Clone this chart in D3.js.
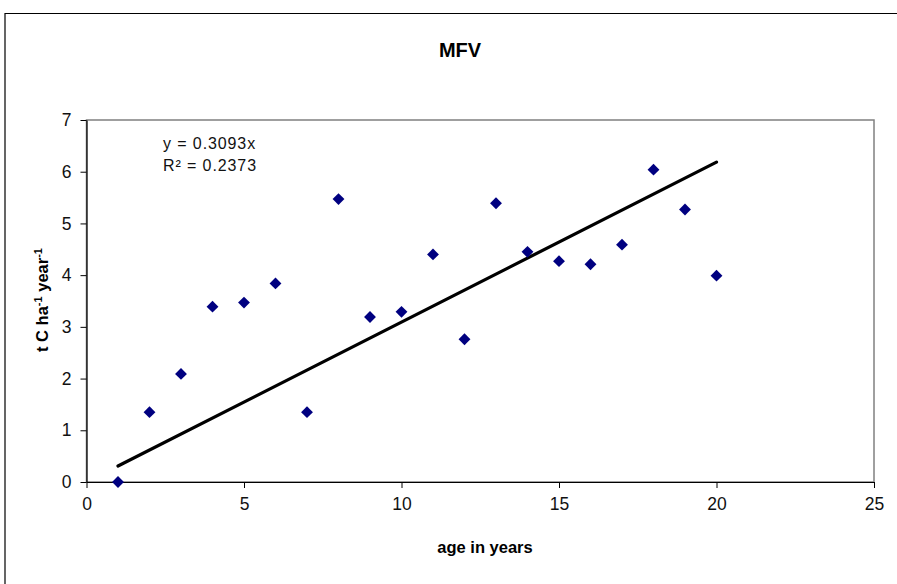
<!DOCTYPE html>
<html>
<head>
<meta charset="utf-8">
<script src="https://cdn.jsdelivr.net/npm/d3@7"></script>
<style>
  body { margin: 0; background: #fff; }
  svg { display: block; font-family: "Liberation Sans", Arial, sans-serif; }
</style>
</head>
<body>
<div id="chart"></div>
<script>
// MFV: annual carbon increment by stand age
const ages = [1, 2, 3, 4, 5, 6, 7, 8, 9, 10, 11, 12, 13, 14, 15, 16, 17, 18, 19, 20];
const carbon = [0.0, 1.35, 2.09, 3.39, 3.47, 3.84, 1.35, 5.47, 3.19, 3.29,
                4.40, 2.76, 5.39, 4.45, 4.27, 4.21, 4.59, 6.04, 5.27, 3.99];
const slope = 0.3093;
const xTicks = [0, 5, 10, 15, 20, 25];
const yTicks = [0, 1, 2, 3, 4, 5, 6, 7];

const width = 897, height = 584;
const plotLeft = 86.5, plotRight = 874, plotTop = 120, plotBottom = 482;

const svg = d3.select("#chart").append("svg")
    .attr("width", width).attr("height", height);

// outer chart border
svg.append("path")
    .attr("d", `M5,${height} V13.5 H${width}`)
    .attr("fill", "none").attr("stroke", "#000").attr("stroke-width", 1.2);

const x = d3.scaleLinear().domain([0, 25]).range([plotLeft, plotRight]);
const y = d3.scaleLinear().domain([0, 7]).range([plotBottom, plotTop]);

// plot area border (gray)
svg.append("rect")
    .attr("x", plotLeft).attr("y", plotTop)
    .attr("width", plotRight - plotLeft).attr("height", plotBottom - plotTop)
    .attr("fill", "none").attr("stroke", "#808080").attr("stroke-width", 1.5);

let xAxis = d3.axisBottom(x).tickValues(xTicks).tickFormat(d3.format("d"))
    .tickSize(6).tickSizeOuter(0).tickPadding(10);
let yAxis = d3.axisLeft(y).tickValues(yTicks).tickFormat(d3.format("d"))
    .tickSize(6).tickSizeOuter(0).tickPadding(9);

const xg = svg.append("g").attr("transform", `translate(0,${plotBottom})`).call(xAxis);
const yg = svg.append("g").attr("transform", `translate(${plotLeft},0)`).call(yAxis);
[xg, yg].forEach(g => {
  g.select(".domain").attr("stroke", "#000").attr("stroke-width", 1.2);
  g.selectAll("line").attr("stroke", "#000");
  g.selectAll("text").attr("font-size", 17.5).attr("fill", "#111")
      .attr("font-family", "Liberation Sans, Arial, sans-serif");
});

// trendline
svg.append("line")
    .attr("x1", x(ages[0])).attr("y1", y(slope * ages[0]))
    .attr("x2", x(ages[ages.length - 1])).attr("y2", y(slope * ages[ages.length - 1]))
    .attr("stroke", "#000").attr("stroke-width", 3.2).attr("stroke-linecap", "round");

// diamond markers
const diamond = d3.symbol().type(d3.symbolSquare).size(70);
svg.append("g").selectAll("path")
    .data(ages.map((a, i) => ({ age: a, c: carbon[i] })))
    .enter().append("path")
    .attr("d", diamond)
    .attr("transform", d => `translate(${x(d.age)},${y(d.c)}) rotate(45)`)
    .attr("fill", "#000080");

// title
svg.append("text").text("MFV")
    .attr("x", 460).attr("y", 57)
    .attr("text-anchor", "middle").attr("font-size", 20).attr("font-weight", "bold");

// equation
svg.append("text").text("y = 0.3093x")
    .attr("x", 163).attr("y", 149).attr("font-size", 16)
    .attr("letter-spacing", 0.9).attr("fill", "#111");
svg.append("text").text("R² = 0.2373")
    .attr("x", 163).attr("y", 171).attr("font-size", 16)
    .attr("letter-spacing", 0.9).attr("fill", "#111");

// axis titles
svg.append("text").text("age in years")
    .attr("x", 485).attr("y", 553)
    .attr("text-anchor", "middle").attr("font-size", 16.5).attr("font-weight", "bold");

const yl = svg.append("text")
    .attr("transform", "translate(48,300) rotate(-90)")
    .attr("text-anchor", "middle").attr("font-size", 16.5).attr("font-weight", "bold");
yl.append("tspan").text("t C ha");
yl.append("tspan").text("-1").attr("font-size", 11).attr("dy", -6);
yl.append("tspan").text(" year").attr("font-size", 16.5).attr("dy", 6);
yl.append("tspan").text("-1").attr("font-size", 11).attr("dy", -6);
</script>
</body>
</html>
